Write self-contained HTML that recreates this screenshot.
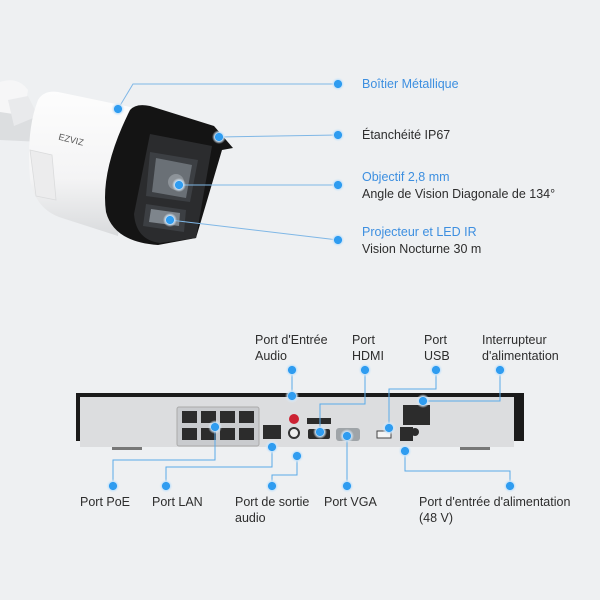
<!DOCTYPE html>
<html><head><meta charset="utf-8"><style>
html,body{margin:0;padding:0}
body{width:600px;height:600px;background:#eef0f2;position:relative;overflow:hidden;font-family:"Liberation Sans",sans-serif}
.t{position:absolute;font-size:12.5px;color:#2d2d2d;line-height:16px;white-space:nowrap}
.b{color:#3d8fe0}
</style></head><body>
<svg width="600" height="600" style="position:absolute;left:0;top:0">
<defs>
<radialGradient id="g"><stop offset="0" stop-color="#2f9cf0"/><stop offset="0.55" stop-color="#2f9cf0"/><stop offset="0.6" stop-color="#bfe0fb"/><stop offset="1" stop-color="#eef0f2" stop-opacity="0"/></radialGradient>
<linearGradient id="wb" x1="0" y1="0" x2="0" y2="1"><stop offset="0" stop-color="#fdfdfd"/><stop offset="0.6" stop-color="#f4f4f5"/><stop offset="1" stop-color="#d9dbdd"/></linearGradient>
</defs>
<!-- camera mount -->
<path d="M0,82 Q18,76 28,90 L22,128 Q10,134 0,130 Z" fill="#f6f6f7"/>
<path d="M0,112 L40,118 L42,142 L0,140 Z" fill="#dcdee0"/>
<path d="M8,100 L28,96 L38,116 L14,126 Z" fill="#e9eaec"/>
<!-- white body -->
<path d="M38,100 Q44,90 58,92 L135,108 L118,236 L62,218 Q36,210 30,180 Q26,130 38,100 Z" fill="url(#wb)"/>
<path d="M30,150 L52,155 L56,200 L36,196 Z" fill="#ececed" stroke="#dadbdc" stroke-width="0.8"/>
<!-- black hood -->
<path d="M130,110 Q136,103 150,106 L214,126 L233,148 L222,150 L196,238 L158,245 Q114,242 106,212 Q100,170 130,110 Z" fill="#141414"/>
<path d="M150,134 L212,146 L196,238 L160,243 Q136,240 134,214 Z" fill="#2b2c2e"/>
<path d="M150,152 L198,160 L190,202 L146,196 Z" fill="#3c3f43"/>
<path d="M156,158 L192,165 L186,198 L152,192 Z" fill="#6a7076"/>
<circle cx="176" cy="182" r="8" fill="#8d9399"/>
<path d="M146,204 L186,210 L184,232 L143,226 Z" fill="#3c3f43"/>
<path d="M151,209 L180,213 L179,226 L149,222 Z" fill="#7e858c"/>
<text x="58" y="140" font-size="9" fill="#555" transform="rotate(14 60 140)">EZVIZ</text>
<!-- camera callouts -->
<g stroke="#7fb7e6" stroke-width="1" fill="none">
<polyline points="118,109 133,84 338,84"/>
<line x1="219" y1="137" x2="338" y2="135"/>
<line x1="179" y1="185" x2="338" y2="185"/>
<line x1="170" y1="220" x2="338" y2="240"/>
</g>
<g fill="url(#g)">
<circle cx="118" cy="109" r="7"/><circle cx="338" cy="84" r="7"/>
<circle cx="219" cy="137" r="7"/><circle cx="338" cy="135" r="7"/>
<circle cx="179" cy="185" r="7"/><circle cx="338" cy="185" r="7"/>
<circle cx="170" cy="220" r="7"/><circle cx="338" cy="240" r="7"/>
</g>
<!-- NVR -->
<rect x="76" y="393" width="448" height="48" fill="#1a1a1a"/>
<rect x="80" y="397" width="434" height="50" fill="#dcdddf"/>
<rect x="112" y="447" width="30" height="3" fill="#777"/><rect x="460" y="447" width="30" height="3" fill="#777"/>
<rect x="177" y="407" width="82" height="39" rx="2" fill="#c9cbce" stroke="#aaa"/>
<g fill="#2c2c2c">
<rect x="182" y="411" width="15" height="12"/><rect x="201" y="411" width="15" height="12"/><rect x="220" y="411" width="15" height="12"/><rect x="239" y="411" width="15" height="12"/>
<rect x="182" y="428" width="15" height="12"/><rect x="201" y="428" width="15" height="12"/><rect x="220" y="428" width="15" height="12"/><rect x="239" y="428" width="15" height="12"/>
<rect x="263" y="425" width="18" height="14"/>
<rect x="307" y="418" width="24" height="6"/>
<rect x="308" y="429" width="22" height="10" rx="2"/>
<rect x="403" y="405" width="27" height="20"/>
<rect x="400" y="427" width="13" height="14"/>
<circle cx="415" cy="432" r="4"/>
</g>
<circle cx="294" cy="419" r="5" fill="#c23"/><circle cx="294" cy="433" r="5" fill="#eee" stroke="#333" stroke-width="2"/>
<rect x="336" y="428" width="24" height="13" rx="3" fill="#9fa4a8"/>
<rect x="377" y="431" width="14" height="7" fill="#f5f5f5" stroke="#444"/>
<!-- NVR callouts -->
<g stroke="#5aaae8" stroke-width="1" fill="none">
<line x1="292" y1="370" x2="292" y2="396"/>
<polyline points="365,370 365,404 320,404 320,432"/>
<polyline points="436,370 436,389 389,389 389,428"/>
<polyline points="500,370 500,401 423,401"/>
<polyline points="215,427 215,460 113,460 113,486"/>
<polyline points="272,447 272,467 166,467 166,486"/>
<polyline points="297,456 297,475 272,475 272,486"/>
<line x1="347" y1="436" x2="347" y2="486"/>
<polyline points="405,451 405,471 510,471 510,486"/>
</g>
<g fill="url(#g)">
<circle cx="292" cy="370" r="7"/><circle cx="292" cy="396" r="7"/>
<circle cx="365" cy="370" r="7"/><circle cx="320" cy="432" r="7"/>
<circle cx="436" cy="370" r="7"/><circle cx="389" cy="428" r="7"/>
<circle cx="500" cy="370" r="7"/><circle cx="423" cy="401" r="7"/>
<circle cx="215" cy="427" r="7"/><circle cx="113" cy="486" r="7"/>
<circle cx="272" cy="447" r="7"/><circle cx="166" cy="486" r="7"/>
<circle cx="297" cy="456" r="7"/><circle cx="272" cy="486" r="7"/>
<circle cx="347" cy="436" r="7"/><circle cx="347" cy="486" r="7"/>
<circle cx="405" cy="451" r="7"/><circle cx="510" cy="486" r="7"/>
</g>
</svg>
<div class="t b" style="left:362px;top:76px">Boîtier Métallique</div>
<div class="t" style="left:362px;top:127px">Étanchéité IP67</div>
<div class="t b" style="left:362px;top:169px">Objectif 2,8 mm</div>
<div class="t" style="left:362px;top:186px">Angle de Vision Diagonale de 134°</div>
<div class="t b" style="left:362px;top:224px">Projecteur et LED IR</div>
<div class="t" style="left:362px;top:241px">Vision Nocturne 30 m</div>
<div class="t" style="left:255px;top:332px">Port d'Entrée<br>Audio</div>
<div class="t" style="left:352px;top:332px">Port<br>HDMI</div>
<div class="t" style="left:424px;top:332px">Port<br>USB</div>
<div class="t" style="left:482px;top:332px">Interrupteur<br>d'alimentation</div>
<div class="t" style="left:80px;top:494px">Port PoE</div>
<div class="t" style="left:152px;top:494px">Port LAN</div>
<div class="t" style="left:235px;top:494px">Port de sortie<br>audio</div>
<div class="t" style="left:324px;top:494px">Port VGA</div>
<div class="t" style="left:419px;top:494px">Port d'entrée d'alimentation<br>(48 V)</div>
</body></html>
